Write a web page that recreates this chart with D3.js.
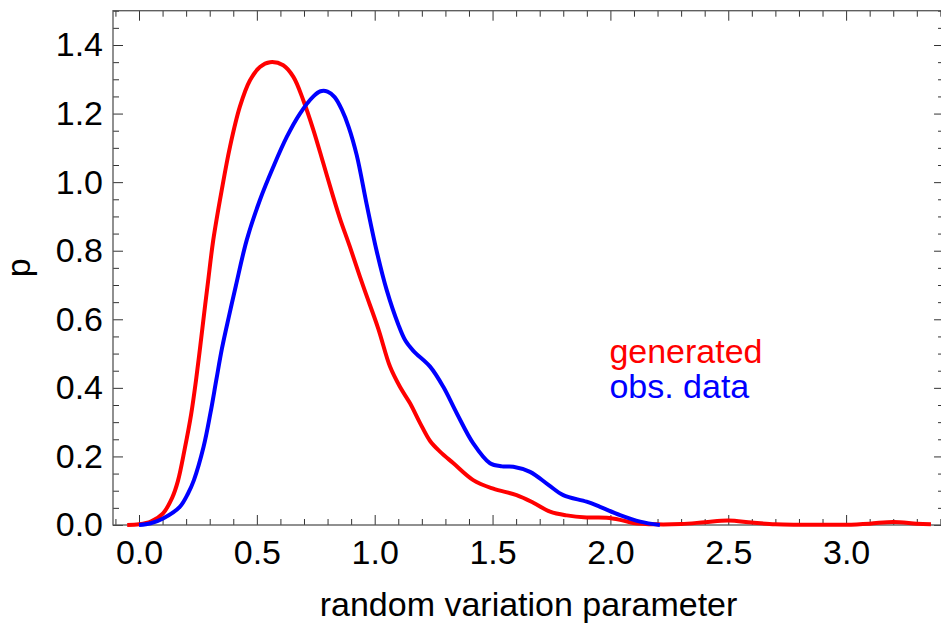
<!DOCTYPE html>
<html>
<head>
<meta charset="utf-8">
<script src="https://cdn.jsdelivr.net/npm/d3@7"></script>
<style>
  html, body { margin: 0; padding: 0; background: #fff; }
  svg text { font-family: "Liberation Sans", Arial, sans-serif; }
</style>
</head>
<body>
<svg id="chart" width="941" height="628"></svg>
<script>
// ---------- data ----------
const genX = [-0.05, 0.0, 0.05, 0.102, 0.141, 0.165, 0.194, 0.221, 0.243, 0.260, 0.276, 0.293, 0.315, 0.351, 0.386, 0.428, 0.471, 0.513, 0.556, 0.612, 0.655, 0.697, 0.740, 0.782, 0.824, 0.853, 0.895, 0.952, 1.015, 1.065, 1.107, 1.150, 1.192, 1.235, 1.277, 1.334, 1.418, 1.503, 1.602, 1.673, 1.744, 1.815, 1.899, 1.984, 2.041, 2.097, 2.196, 2.3, 2.4, 2.5, 2.6, 2.7, 2.8, 2.9, 3.0, 3.1, 3.2, 3.3, 3.36];
const genY = [0.0, 0.002, 0.010, 0.034, 0.080, 0.128, 0.222, 0.322, 0.428, 0.522, 0.615, 0.710, 0.831, 0.977, 1.103, 1.220, 1.297, 1.336, 1.350, 1.341, 1.307, 1.239, 1.152, 1.055, 0.957, 0.893, 0.811, 0.695, 0.573, 0.462, 0.403, 0.355, 0.298, 0.245, 0.214, 0.180, 0.131, 0.106, 0.087, 0.065, 0.039, 0.028, 0.022, 0.021, 0.015, 0.006, 0.002, 0.003, 0.008, 0.013, 0.007, 0.002, 0.001, 0.001, 0.001, 0.004, 0.009, 0.004, 0.002];

const obsX = [0.0, 0.05, 0.102, 0.173, 0.208, 0.233, 0.274, 0.303, 0.328, 0.352, 0.382, 0.411, 0.457, 0.513, 0.570, 0.627, 0.683, 0.740, 0.770, 0.800, 0.830, 0.860, 0.890, 0.924, 0.966, 1.008, 1.051, 1.100, 1.130, 1.164, 1.235, 1.291, 1.348, 1.418, 1.489, 1.540, 1.588, 1.659, 1.737, 1.800, 1.899, 1.956, 2.041, 2.126, 2.21];
const obsY = [0.0, 0.005, 0.019, 0.053, 0.092, 0.131, 0.228, 0.326, 0.423, 0.515, 0.610, 0.698, 0.831, 0.948, 1.045, 1.132, 1.200, 1.250, 1.265, 1.264, 1.248, 1.212, 1.160, 1.078, 0.935, 0.800, 0.685, 0.585, 0.538, 0.508, 0.462, 0.403, 0.326, 0.238, 0.180, 0.171, 0.170, 0.155, 0.117, 0.087, 0.068, 0.053, 0.029, 0.010, 0.0];

const xMajor = [0.0, 0.5, 1.0, 1.5, 2.0, 2.5, 3.0];
const yMajor = [0.0, 0.2, 0.4, 0.6, 0.8, 1.0, 1.2, 1.4];
const seriesNames = ["generated", "obs. data"];
const seriesColors = ["#ff0000", "#0000ff"];
const xTitle = "random variation parameter";
const yTitle = "p";

// ---------- layout ----------
const FS = "34px";
const svg = d3.select("#chart");
const x = d3.scaleLinear().domain([0, 3]).range([139, 846.1]);
const y = d3.scaleLinear().domain([0, 1.4]).range([525, 45]);
const xMin = -0.1103, xMax = 3.4155, yMax = 1.5;
const L = x(xMin), R = x(xMax), T = y(yMax), B = y(0);

const xMinor = d3.range(-1, 35).map(i => i / 10).filter(v => !xMajor.some(m => Math.abs(m - v) < 1e-9));
const yMinor = d3.range(1, 31).map(i => i / 20).filter(v => !yMajor.some(m => Math.abs(m - v) < 1e-9));

const fmt = d3.format(".1f");
const tickCol = "#333";
const frameCol = "#555";

function styleAxis(g) {
  g.select(".domain").remove();
  g.selectAll(".tick line").attr("stroke", tickCol).attr("stroke-width", 1);
  g.selectAll(".tick text").attr("fill", "#000").style("font-size", FS)
    .style("font-family", '"Liberation Sans", Arial, sans-serif');
}

// bottom
svg.append("g").attr("transform", `translate(0,${B})`)
  .call(d3.axisBottom(x).tickValues(xMajor).tickSize(-10).tickPadding(15).tickFormat(fmt))
  .call(styleAxis);
svg.append("g").attr("transform", `translate(0,${B})`)
  .call(d3.axisBottom(x).tickValues(xMinor).tickSize(-6).tickFormat(""))
  .call(styleAxis);
// top
svg.append("g").attr("transform", `translate(0,${T})`)
  .call(d3.axisTop(x).tickValues(xMajor).tickSize(-10).tickFormat(""))
  .call(styleAxis);
svg.append("g").attr("transform", `translate(0,${T})`)
  .call(d3.axisTop(x).tickValues(xMinor).tickSize(-6).tickFormat(""))
  .call(styleAxis);
// left
svg.append("g").attr("transform", `translate(${L},0)`)
  .call(d3.axisLeft(y).tickValues(yMajor).tickSize(-10).tickPadding(10).tickFormat(fmt))
  .call(styleAxis);
svg.append("g").attr("transform", `translate(${L},0)`)
  .call(d3.axisLeft(y).tickValues(yMinor).tickSize(-6).tickFormat(""))
  .call(styleAxis);
// right
svg.append("g").attr("transform", `translate(${R},0)`)
  .call(d3.axisRight(y).tickValues(yMajor).tickSize(-10).tickFormat(""))
  .call(styleAxis);
svg.append("g").attr("transform", `translate(${R},0)`)
  .call(d3.axisRight(y).tickValues(yMinor).tickSize(-6).tickFormat(""))
  .call(styleAxis);

// frame
svg.append("rect").attr("x", L).attr("y", T).attr("width", R - L).attr("height", B - T)
  .attr("fill", "none").attr("stroke", frameCol).attr("stroke-width", 1.3);

// curves
const line = d3.line().x(d => x(d[0])).y(d => y(d[1])).curve(d3.curveCatmullRom.alpha(0.5));
const series = [d3.zip(genX, genY), d3.zip(obsX, obsY)];
series.forEach((s, i) => {
  svg.append("path").datum(s).attr("d", line)
    .attr("fill", "none").attr("stroke", seriesColors[i]).attr("stroke-width", 4)
    .attr("stroke-linejoin", "round").attr("stroke-linecap", "butt");
});

// legend labels
seriesNames.forEach((n, i) => {
  svg.append("text").attr("x", x(2.0) - 1).attr("y", 363 + i * 35)
    .attr("fill", seriesColors[i]).style("font-size", FS).text(n);
});

// axis titles
svg.append("text").attr("x", (L + R) / 2).attr("y", 616).attr("text-anchor", "middle")
  .style("font-size", FS).attr("fill", "#000").text(xTitle);
svg.append("text").attr("transform", `translate(30,${(T + B) / 2}) rotate(-90)`)
  .attr("text-anchor", "middle").style("font-size", FS).attr("fill", "#000").text(yTitle);
</script>
</body>
</html>
